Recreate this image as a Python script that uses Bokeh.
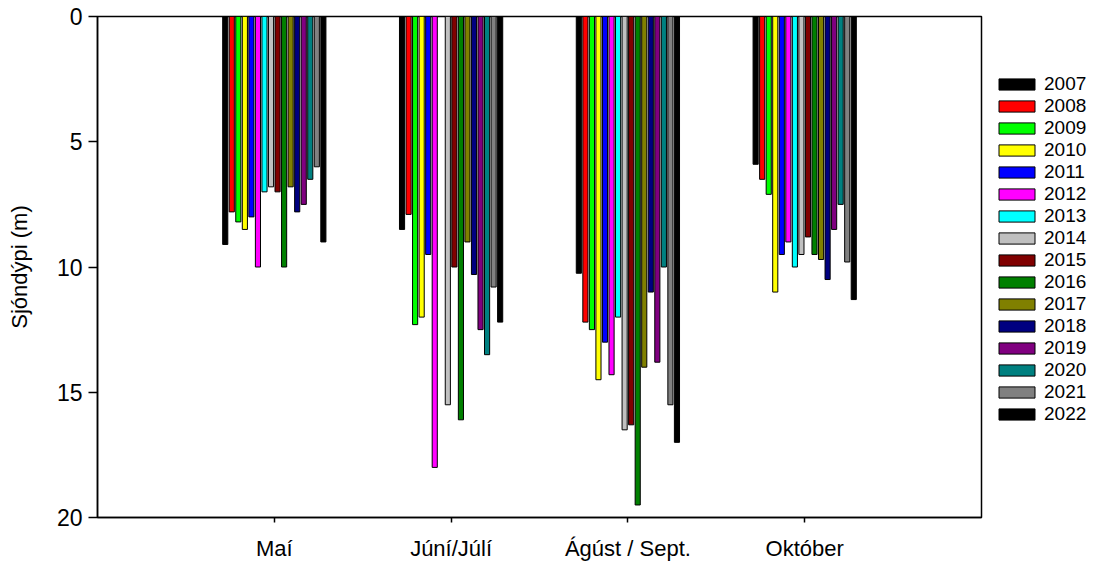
from bokeh.plotting import figure
from bokeh.models import Range1d, FixedTicker, Legend, LegendItem, ColumnDataSource
from bokeh.embed import file_html
from bokeh.resources import INLINE

months = ["Maí", "Júní/Júlí", "Ágúst / Sept.", "Október"]
years = ["2007", "2008", "2009", "2010", "2011", "2012", "2013", "2014",
         "2015", "2016", "2017", "2018", "2019", "2020", "2021", "2022"]
colors = ["#000000", "#FF0000", "#00FF00", "#FFFF00", "#0000FF", "#FF00FF",
          "#00FFFF", "#C0C0C0", "#800000", "#008000", "#808000", "#000080",
          "#800080", "#008080", "#808080", "#000000"]

# Sjóndýpi (m) per month, one value per year (None = no measurement)
mai = [9.1, 7.8, 8.2, 8.5, 8.0, 10.0, 7.0, 6.8, 7.0, 10.0, 6.8, 7.8, 7.5, 6.5, 6.0, 9.0]
juni_juli = [8.5, 7.9, 12.3, 12.0, 9.5, 18.0, None, 15.5, 10.0, 16.1, 9.0, 10.3, 12.5, 13.5, 10.8, 12.2]
agust_sept = [10.25, 12.2, 12.5, 14.5, 13.0, 14.3, 12.0, 16.5, 16.3, 19.5, 14.0, 11.0, 13.8, 10.0, 15.5, 17.0]
oktober = [5.9, 6.5, 7.1, 11.0, 9.5, 9.0, 10.0, 9.5, 8.8, 9.5, 9.7, 10.5, 8.5, 7.5, 9.8, 11.3]

FONT = "Liberation Sans"

p = figure(frame_width=884, frame_height=501,
           x_range=Range1d(0, 5), y_range=Range1d(20, 0),
           output_backend="svg", toolbar_location=None,
           min_border_left=97, min_border_top=16, min_border_right=117,
           min_border_bottom=44)

p.xgrid.visible = False
p.ygrid.visible = False
p.outline_line_color = "black"
p.outline_line_width = 1.5
p.background_fill_color = "white"
p.border_fill_color = "white"

series = [mai, juni_juli, agust_sept, oktober]
slot = 0.037
bar_w = 0.029

items = []
for i, (yr, col) in enumerate(zip(years, colors)):
    xs, vals = [], []
    for m, s in enumerate(series):
        v = s[i]
        if v is None:
            continue
        xs.append(m + 1 + (i - 7.5) * slot)
        vals.append(v)
    src = ColumnDataSource(dict(x=xs, v=vals))
    r = p.vbar(x="x", top=0, bottom="v", width=bar_w, source=src,
               fill_color=col, line_color="black", line_width=1)
    items.append(LegendItem(label=yr, renderers=[r]))

legend = Legend(items=items, location=(13, 92), padding=0, margin=0,
                spacing=0, glyph_width=45, glyph_height=14, label_height=14,
                label_standoff=5, label_text_font=FONT,
                label_text_font_size="19px", label_text_color="black",
                border_line_color=None, background_fill_alpha=0)
p.add_layout(legend, "right")

# y axis
ya = p.yaxis[0]
ya.ticker = FixedTicker(ticks=[0, 5, 10, 15, 20])
ya.minor_tick_line_color = None
ya.major_tick_in = 0
ya.major_tick_out = 9
ya.major_label_standoff = 6
ya.major_label_text_font = FONT
ya.major_label_text_font_size = "23px"
ya.major_label_text_color = "black"
ya.axis_label = "Sjóndýpi (m)"
ya.axis_label_text_font = FONT
ya.axis_label_text_font_size = "22px"
ya.axis_label_text_font_style = "normal"
ya.axis_label_text_color = "black"
ya.axis_label_standoff = 22
ya.axis_line_width = 1.5
ya.major_tick_line_width = 1.5

# x axis
xa = p.xaxis[0]
xa.ticker = FixedTicker(ticks=[1, 2, 3, 4])
xa.major_label_overrides = {i + 1: m for i, m in enumerate(months)}
xa.minor_tick_line_color = None
xa.major_tick_in = 0
xa.major_tick_out = 5
xa.major_label_standoff = 13
xa.major_label_text_font = FONT
xa.major_label_text_font_size = "22px"
xa.major_label_text_color = "black"
xa.axis_line_width = 1.5
xa.major_tick_line_width = 1.5

open("out.html", "w").write(file_html(p, INLINE))
